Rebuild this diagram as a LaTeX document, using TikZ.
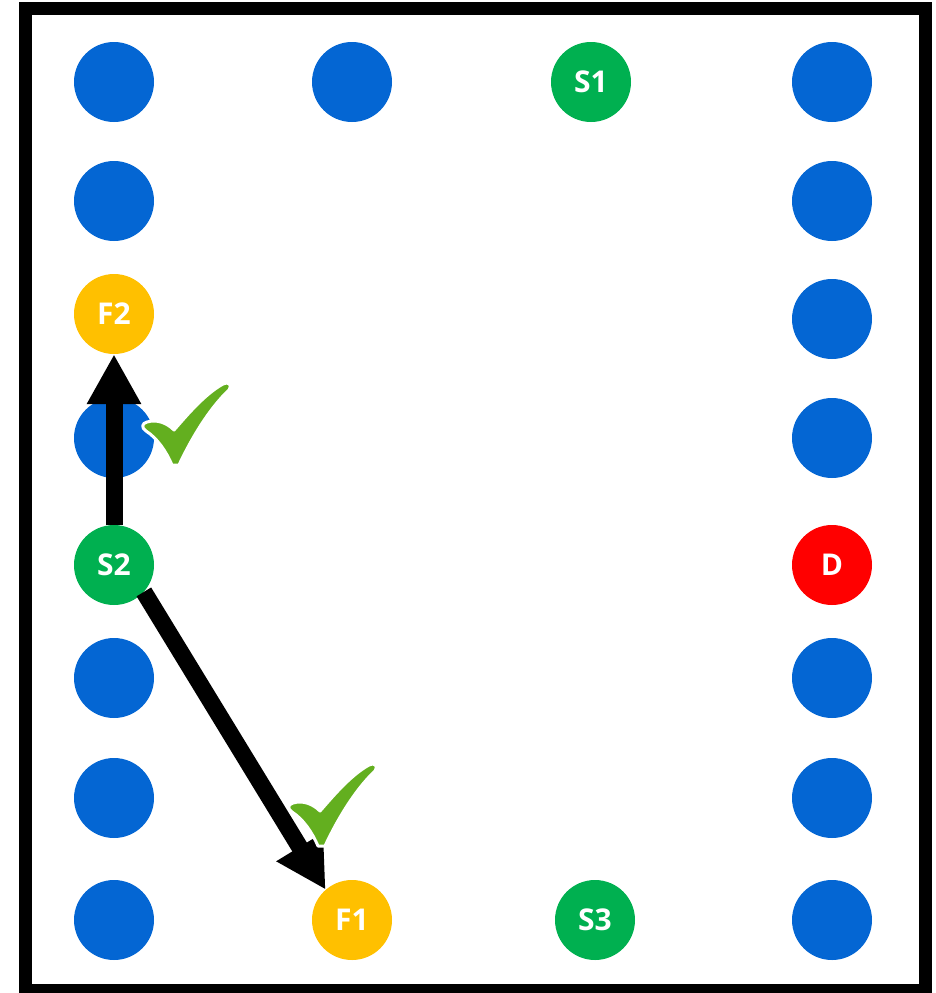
\documentclass[tikz,border=0pt]{standalone}
\usepackage{fontspec}
\setmainfont{Open Sans}
\usetikzlibrary{arrows.meta}
\definecolor{dotblue}{HTML}{0466D3}
\definecolor{dotgreen}{HTML}{00B050}
\definecolor{dotyellow}{HTML}{FFC000}
\definecolor{dotred}{HTML}{FF0000}
\definecolor{tickgreen}{HTML}{63AF1F}
\tikzset{
  dot/.style={circle, minimum size=80pt, inner sep=0pt, fill=#1, text=white,
    font=\fontsize{30}{30}\selectfont\bfseries},
  bigarrow/.style={line width=17pt, -{Triangle[length=50pt,width=51pt]}},
  tick/.pic={
    \fill[tickgreen, draw=white, line width=3pt, line join=round]
      (-28,-43) .. controls (-18,-46) and (-8,-42) .. (-1,-35)
      .. controls (8,-45) and (28,-70) .. (48,-81)
      .. controls (53,-84) and (58,-80) .. (54,-75)
      .. controls (38,-60) and (20,-34) .. (4,0)
      -- (-3,0)
      .. controls (-9,-14) and (-18,-27) .. (-29,-34)
      .. controls (-34,-37) and (-33,-42) .. (-28,-43) -- cycle;
  }
}
\begin{document}
\begin{tikzpicture}[x=1pt, y=-1pt]
\useasboundingbox (0,0) rectangle (936,993);
\draw[line width=13pt] (25.5,8) rectangle (925.5,990.5);
% top row
\node[dot=dotblue] (a1) at (114,82) {};
\node[dot=dotblue] (a2) at (352,82) {};
\node[dot=dotgreen] (S1) at (591,82) {S1};
\node[dot=dotblue] (a4) at (832,82) {};
% left column
\node[dot=dotblue] (l2) at (114,201) {};
\node[dot=dotyellow] (F2) at (114,314) {F2};
\node[dot=dotblue] (l4) at (114,438) {};
\node[dot=dotgreen] (S2) at (114,565) {S2};
\node[dot=dotblue] (l6) at (114,678) {};
\node[dot=dotblue] (l7) at (114,798) {};
\node[dot=dotblue] (l8) at (114,920) {};
% right column
\node[dot=dotblue] (r2) at (832,201) {};
\node[dot=dotblue] (r3) at (832,319) {};
\node[dot=dotblue] (r4) at (832,438) {};
\node[dot=dotred] (D) at (832,565) {D};
\node[dot=dotblue] (r6) at (832,678) {};
\node[dot=dotblue] (r7) at (832,798) {};
\node[dot=dotblue] (r8) at (832,920) {};
% bottom row
\node[dot=dotyellow] (F1) at (352,920) {F1};
\node[dot=dotgreen] (S3) at (595,920) {S3};
% arrows
\draw[bigarrow] (S2) -- (F2);
\draw[bigarrow] (S2.-42) -- (F1.131);
% ticks
\pic at (175,465) {tick};
\pic at (321,846) {tick};
\end{tikzpicture}
\end{document}
